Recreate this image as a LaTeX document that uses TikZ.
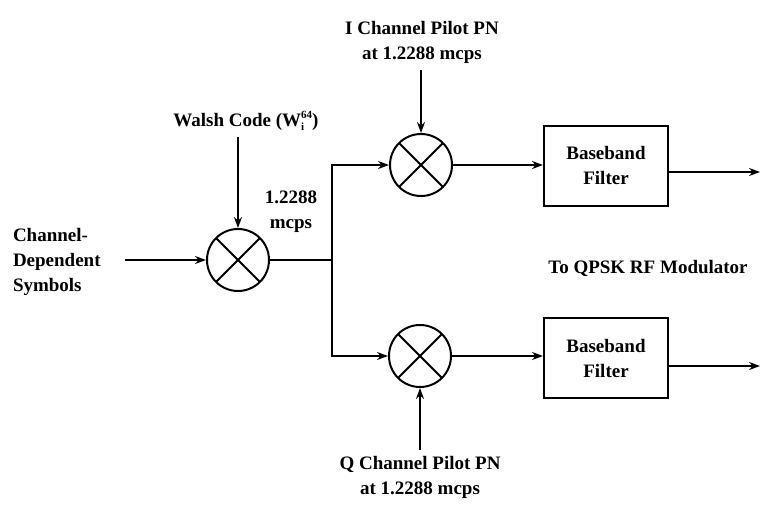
\documentclass[tikz,border=0pt]{standalone}
\usepackage{fontspec}
\setmainfont{Liberation Serif}
\usetikzlibrary{arrows.meta}
\begin{document}
\begin{tikzpicture}[x=1pt,y=-1pt, line width=2pt,
  mixer/.style={circle, draw, minimum size=62pt, inner sep=0pt,
    path picture={\draw[line width=2pt]
      (path picture bounding box.north west) -- (path picture bounding box.south east)
      (path picture bounding box.north east) -- (path picture bounding box.south west);}},
  filt/.style={draw, minimum width=124pt, minimum height=80pt, align=center, inner sep=0pt,
    font=\bfseries\fontsize{19}{25}\selectfont},
  lbl/.style={font=\bfseries\fontsize{19}{25}\selectfont, align=center, inner sep=0pt},
  arr/.style={-{Stealth[length=11pt,width=8pt]}}]
\useasboundingbox (0,0) rectangle (766,519);
% mixers and filters
\node[mixer] (m1) at (238,260) {};
\node[mixer] (mi) at (421,165) {};
\node[mixer] (mq) at (420,356) {};
\node[filt] (fi) at (606,166) {Baseband\\Filter};
\node[filt] (fq) at (606,358) {Baseband\\Filter};
% free ends
\coordinate (in) at (125,260);
\coordinate (j) at (332,260);
\coordinate (wt) at (238,137);
\coordinate (it) at (421,70);
\coordinate (qb) at (420,450);
\coordinate (oi) at (760,172);
\coordinate (oq) at (760,366);
% connectors
\draw[arr] (in) -- (m1);
\draw (m1) -- (j);
\draw[arr] (j) |- (mi.west);
\draw[arr] (j) |- (mq.west);
\draw[arr] (mi) -- (fi.west |- mi);
\draw[arr] (mq) -- (fq.west |- mq);
\draw[arr] (fi.east |- oi) -- (oi);
\draw[arr] (fq.east |- oq) -- (oq);
\draw[arr] (wt) -- (m1);
\draw[arr] (it) -- (mi);
\draw[arr] (qb) -- (mq);
% labels
\node[lbl] (wl) at (246,121) {Walsh Code (W\rlap{\raisebox{-4pt}{\fontsize{11}{11}\selectfont i}}\raisebox{8pt}{\fontsize{11}{11}\selectfont 64})};
\node[lbl] (rate) at (291,212) {1.2288\\mcps};
\node[lbl] (il) at (422,42) {I Channel Pilot PN\\at 1.2288 mcps};
\node[lbl] (ql) at (420,477) {Q Channel Pilot PN\\at 1.2288 mcps};
\node[lbl, align=left, anchor=west] (sym) at (12,262) {Channel-\\Dependent\\Symbols};
\node[lbl] (to) at (648,268) {To QPSK RF Modulator};
\end{tikzpicture}
\end{document}
